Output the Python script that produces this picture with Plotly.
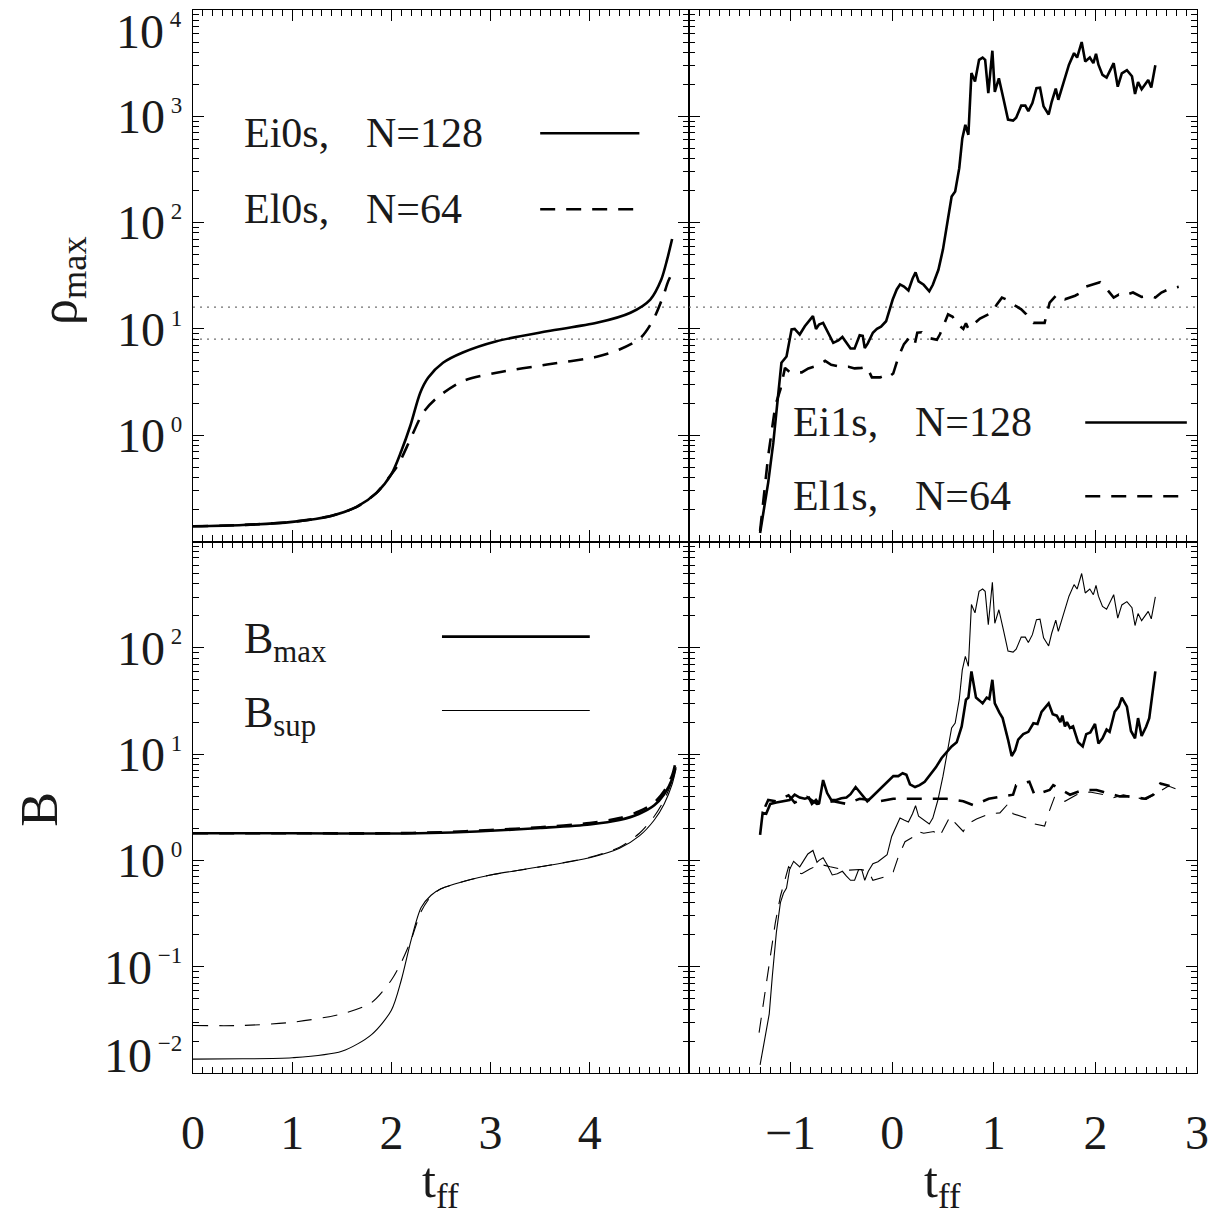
import plotly.graph_objects as go

# ---------------- data ----------------
# top-left: rho_max, Ei0s (N=128) and El0s (N=64)
t_ei0s = [0, 0.5, 1.0, 1.4, 1.65, 1.85, 2.0, 2.1, 2.19, 2.29, 2.37, 2.52, 2.72, 3.06, 3.57, 4.07, 4.41, 4.61, 4.72, 4.78, 4.83]
rho_ei0s = [0.139, 0.143, 0.153, 0.175, 0.212, 0.287, 0.43, 0.71, 1.22, 2.5, 3.47, 4.8, 6.0, 7.66, 9.5, 11.4, 14.2, 18.9, 29, 45, 70]
t_el0s = [0, 0.5, 1.0, 1.4, 1.65, 1.85, 2.0, 2.07, 2.19, 2.32, 2.46, 2.72, 3.06, 3.57, 4.07, 4.30, 4.51, 4.64, 4.74, 4.79, 4.84]
rho_el0s = [0.139, 0.143, 0.153, 0.175, 0.212, 0.287, 0.43, 0.53, 0.91, 1.63, 2.25, 3.23, 3.87, 4.62, 5.46, 6.4, 8.2, 12.2, 20.3, 28, 35]

# top-right: rho_max, Ei1s (N=128) and El1s (N=64)
t_ei1s = [-1.30, -1.22, -1.17, -1.12, -1.09, -1.04, -0.99, -0.96, -0.91, -0.86,
          -0.81, -0.78, -0.75, -0.72, -0.68, -0.63, -0.58, -0.53, -0.49, -0.45,
          -0.41, -0.37, -0.32, -0.29, -0.27, -0.24, -0.19, -0.15, -0.11, -0.06,
          -0.03, 0.005, 0.045, 0.077, 0.116, 0.16, 0.20, 0.23, 0.26, 0.31,
          0.365, 0.40, 0.455, 0.50,
          0.55, 0.585, 0.62, 0.66, 0.69, 0.72, 0.75, 0.78, 0.815, 0.855,
          0.89, 0.915, 0.946, 0.986, 1.01, 1.05, 1.094, 1.14, 1.19, 1.22,
          1.27, 1.31, 1.34, 1.38, 1.42, 1.455, 1.49, 1.54, 1.57, 1.61,
          1.635, 1.68, 1.74, 1.79, 1.82, 1.865, 1.90, 1.945, 1.98, 2.006,
          2.03, 2.07, 2.11, 2.18, 2.22, 2.26, 2.31, 2.36, 2.39, 2.42,
          2.455, 2.52, 2.55, 2.59]
rho_ei1s = [0.12, 0.36, 0.85, 2.7, 4.8, 5.5, 9.9, 10, 8.85, 10.6,
            12.2, 13.2, 10, 11, 11.4, 9.2, 7.4, 7.8, 8.4, 7.4,
            6.55, 6.55, 8.7, 8.6, 6.6, 7.3, 9.2, 10, 10.5, 11.8,
            14.7, 18.9, 23.5, 26.2, 25, 23, 29.6, 34, 28, 26,
            22.6, 26, 36, 56,
            110, 176, 196, 325, 620, 830, 670, 2550, 2130, 3400,
            3570, 3400, 1650, 4140, 1700, 2280, 1480, 930, 910, 970,
            1260, 1260, 1120, 1330, 1840, 1860, 1240, 1040, 1370, 1820,
            1430, 2030, 3060, 3930, 3570, 5000, 3280, 3570, 3160, 3870,
            3060, 2450, 2310, 3160, 1900, 2530, 2720, 2380, 1620, 2100,
            1800, 2200, 1870, 3020]
t_el1s = [-1.30, -1.22, -1.15, -1.10, -1.055, -1.006, -0.89, -0.825, -0.74, -0.66,
          -0.60, -0.51, -0.43, -0.37, -0.30, -0.25, -0.20, -0.12, -0.07, -0.04,
          0.01, 0.06, 0.116, 0.175, 0.224, 0.247, 0.29, 0.34, 0.44, 0.47,
          0.55, 0.595, 0.634, 0.70, 0.726, 0.75, 0.864, 0.913, 0.98, 1.03,
          1.08, 1.12, 1.16, 1.27, 1.32, 1.35, 1.39, 1.50, 1.55, 1.62,
          1.70, 1.80, 1.88, 1.91, 2.045, 2.11, 2.18, 2.23, 2.27, 2.37,
          2.455, 2.54, 2.59, 2.65, 2.73, 2.82]
rho_el1s = [0.126, 0.64, 1.9, 2.7, 4.3, 3.9, 3.9, 4.25, 4.5, 5.0,
            4.6, 4.4, 4.4, 4.25, 4.3, 4.4, 3.5, 3.5, 3.65, 3.5,
            3.8, 5.4, 7.2, 8.4, 7.3, 9.2, 9.3, 8.3, 7.9, 8.9,
            13.7, 13, 11.3, 10, 11.3, 10, 12.5, 13.2, 14.2, 17,
            19.7, 19, 17.7, 15.3, 13.7, 12.2, 11.4, 11.4, 17.7, 21,
            19, 20.5, 22.5, 25, 27.5, 23.8, 19.7, 21, 20.4, 22,
            20, 20.4, 19.7, 22, 23.8, 24.9]

# bottom-left: B for Ei0s (solid) / El0s (dashed); thick = Bmax, thin = Bsup
t_b0 = [0, 1.0, 2.0, 2.5, 3.0, 3.5, 4.0, 4.3, 4.5, 4.65, 4.75, 4.83, 4.86]
bmax_ei0s = [1.80, 1.80, 1.79, 1.82, 1.90, 2.02, 2.18, 2.4, 2.75, 3.3, 4.2, 5.8, 7.4]
bmax_el0s = [1.80, 1.80, 1.80, 1.84, 1.93, 2.05, 2.25, 2.5, 2.9, 3.5, 4.5, 6.3, 8.0]
t_bsup0 = [0, 0.5, 1.0, 1.5, 1.8, 2.0, 2.1, 2.2, 2.3, 2.4, 2.5, 2.8, 3.0, 3.5, 4.0, 4.3, 4.5, 4.65, 4.75, 4.83, 4.87]
bsup_ei0s = [0.0135, 0.0136, 0.0139, 0.016, 0.023, 0.039, 0.075, 0.18, 0.36, 0.47, 0.54, 0.66, 0.73, 0.87, 1.06, 1.3, 1.7, 2.4, 3.4, 5.2, 7.3]
bsup_el0s = [0.028, 0.028, 0.030, 0.036, 0.046, 0.075, 0.11, 0.18, 0.33, 0.46, 0.54, 0.66, 0.73, 0.87, 1.07, 1.33, 1.8, 2.6, 3.7, 5.6, 7.6]

# bottom-right: B for Ei1s (solid) / El1s (dashed)
t_bmax_ei1s = [-1.30, -1.275, -1.24, -1.20, -1.14, -1.07, -1.01, -0.96, -0.91, -0.86,
               -0.82, -0.79, -0.75, -0.72, -0.68, -0.64, -0.60, -0.55, -0.50, -0.45,
               -0.41, -0.36, -0.32, -0.28, -0.245, -0.20, -0.15, -0.12, -0.09, -0.04,
               0.011, 0.06, 0.103, 0.14, 0.175, 0.225, 0.27, 0.32, 0.38, 0.43,
               0.487, 0.536, 0.585, 0.635, 0.684, 0.726, 0.75, 0.78, 0.825, 0.858,
               0.89, 0.93, 0.956, 0.986, 1.01, 1.055, 1.087, 1.14, 1.176, 1.21,
               1.24, 1.29, 1.34, 1.39, 1.43, 1.47, 1.54, 1.58, 1.62, 1.655,
               1.675, 1.70, 1.72, 1.75, 1.78, 1.83, 1.875, 1.91, 1.95, 1.996,
               2.03, 2.07, 2.11, 2.14, 2.19, 2.23, 2.26, 2.31, 2.35, 2.39,
               2.42, 2.455, 2.50, 2.53, 2.59]
bmax_ei1s = [1.74, 2.8, 2.75, 3.4, 3.5, 3.6, 3.7, 4.15, 3.9, 3.8,
             3.9, 3.4, 3.7, 3.4, 5.7, 4.3, 3.7, 3.7, 3.85, 3.9,
             4.2, 4.9, 4.4, 3.9, 3.6, 3.95, 4.4, 4.6, 5.0, 5.5,
             6.2, 6.2, 6.6, 6.4, 5.2, 4.9, 5.1, 5.5, 6.6, 7.5,
             9.2, 10.3, 11.8, 12.9, 18.2, 32.5, 34, 60, 34, 32,
             30, 34, 33, 50, 30, 24.6, 21.8, 13.7, 9.6, 10.9,
             13.7, 15.4, 16.2, 19.5, 19.2, 25, 30, 23.7, 23, 20,
             23, 18.2, 20, 17.6, 18.2, 12.9, 11.8, 15.4, 16, 19.2,
             12.6, 14.1, 17, 16.2, 25, 28, 34, 28, 16.5, 14.1,
             21.8, 14.8, 18.2, 21.8, 60]
t_bmax_el1s = [-1.25, -1.22, -1.14, -1.02, -0.96, -0.84, -0.74, -0.58, -0.45, -0.32,
               -0.12, 0.01, 0.21, 0.40, 0.535, 0.70, 0.80, 0.95, 1.08, 1.19,
               1.22, 1.35, 1.40, 1.55, 1.585, 1.75, 1.88, 2.01, 2.08, 2.18,
               2.24, 2.32, 2.49, 2.57, 2.64, 2.73]
bmax_el1s = [3.2, 3.7, 3.6, 4.1, 3.5, 3.95, 3.4, 3.6, 3.4, 3.8,
             3.6, 3.8, 3.8, 3.8, 3.8, 3.6, 3.3, 3.8, 4.0, 4.15,
             5.1, 5.5, 4.15, 4.6, 5.1, 4.15, 4.6, 4.6, 4.4, 4.15,
             4.0, 4.0, 3.8, 4.15, 5.3, 5.0]
t_bsup_ei1s = [-1.30, -1.24, -1.21, -1.18, -1.14, -1.10, -1.07, -1.04, -1.01, -0.97,
               -0.95, -0.91, -0.87, -0.83, -0.78, -0.74, -0.72, -0.68, -0.64, -0.59,
               -0.54, -0.49, -0.45, -0.41, -0.37, -0.33, -0.30, -0.27, -0.235, -0.19,
               -0.14, -0.09, -0.05, -0.005, 0.04, 0.077, 0.116, 0.16, 0.2, 0.23,
               0.26, 0.31, 0.365, 0.40, 0.45, 0.50, 0.55, 0.585, 0.62, 0.66,
               0.69, 0.72, 0.75, 0.78, 0.815, 0.855, 0.89, 0.915, 0.946, 0.986,
               1.01, 1.05, 1.094, 1.14, 1.19, 1.22, 1.27, 1.31, 1.34, 1.38,
               1.42, 1.455, 1.49, 1.54, 1.57, 1.61, 1.635, 1.68, 1.74, 1.79,
               1.82, 1.865, 1.90, 1.945, 1.98, 2.006, 2.03, 2.07, 2.11, 2.18,
               2.22, 2.26, 2.31, 2.36, 2.39, 2.42, 2.455, 2.52, 2.55, 2.59]
bsup_ei1s = [0.0119, 0.0236, 0.036, 0.081, 0.21, 0.40, 0.49, 0.55, 0.82, 0.98,
             0.94, 0.87, 1.0, 1.15, 1.24, 0.96, 1.0, 1.06, 0.91, 0.73,
             0.75, 0.79, 0.71, 0.65, 0.65, 0.82, 0.82, 0.65, 0.79, 0.93,
             0.97, 1.05, 1.13, 1.68, 2.1, 2.5, 2.4, 2.3, 2.75, 3.27,
             2.6, 2.4, 2.2, 2.5, 3.7, 6.2, 11, 17.6, 19.6, 32.5,
             62, 83, 67, 255, 213, 340, 357, 340, 165, 414,
             170, 228, 148, 93, 91, 97, 126, 126, 112, 133,
             184, 186, 124, 104, 137, 182, 143, 203, 306, 393,
             357, 500, 328, 357, 316, 387, 306, 245, 231, 316,
             190, 253, 272, 238, 162, 210, 180, 220, 187, 302]
t_bsup_el1s = [-1.31, -1.25, -1.20, -1.15, -1.10, -1.055, -1.02, -0.96, -0.89, -0.81,
               -0.71, -0.61, -0.51, -0.42, -0.32, -0.235, -0.19, -0.07, -0.02, 0.01,
               0.06, 0.126, 0.21, 0.25, 0.31, 0.41, 0.465, 0.57, 0.62, 0.70,
               0.74, 0.83, 0.96, 1.06, 1.14, 1.19, 1.32, 1.36, 1.50, 1.54,
               1.60, 1.70, 1.815, 1.945, 2.08, 2.18, 2.275, 2.39, 2.50, 2.60,
               2.72, 2.82]
bsup_el1s = [0.024, 0.06, 0.135, 0.26, 0.46, 0.66, 0.87, 0.78, 0.75, 0.83,
             0.92, 0.87, 0.83, 0.81, 0.82, 0.8, 0.65, 0.7, 0.75, 0.78,
             1.08, 1.5, 1.67, 1.87, 1.8, 1.87, 1.67, 2.6, 2.25, 1.87,
             2.2, 2.45, 2.75, 2.8, 3.4, 2.75, 2.5, 2.25, 2.1, 2.8,
             4.0, 3.6, 4.15, 4.4, 4.15, 3.9, 4.15, 3.9, 3.75, 4.3,
             5.0, 4.6]

# horizontal reference density levels (dotted)
rho_levels = [8, 16]

# axis ranges / ticks
x_left_range = [0, 5]
x_right_range = [-2, 3]
x_left_ticks = [0, 1, 2, 3, 4]
x_right_ticks = [-1, 0, 1, 2, 3]
x_right_text = ["\u22121", "0", "1", "2", "3"]
rho_range_log = [-1, 4]
b_range_log = [-2, 3]
rho_ticks = [1, 10, 100, 1000]
b_ticks = [0.1, 1, 10, 100]

# ---------------- style ----------------
FONT = "Liberation Serif"
INK = "#1a1a1a"
THICK = 2.6
THIN = 1.1
DASH = "15px,11px"


def dec_label(exp):
    s = str(exp).replace("-", "\u2212")
    return f"10<sup><span style='font-size:23px'> {s}</span></sup>"


fig = go.Figure()

def line(x, y, xa, ya, width, dash="solid", color="black", shape="linear"):
    fig.add_trace(go.Scatter(x=x, y=y, xaxis=xa, yaxis=ya, mode="lines",
                             line=dict(color=color, width=width, dash=dash, shape=shape,
                                       smoothing=0.8 if shape == "spline" else None),
                             showlegend=False, hoverinfo="skip"))

# dotted levels
for lev in rho_levels:
    line(x_left_range, [lev, lev], "x", "y", 1.2, "2px,5px", "#707070")
    line(x_right_range, [lev, lev], "x2", "y2", 1.2, "2px,5px", "#707070")

# top-left
line(t_ei0s, rho_ei0s, "x", "y", THICK, shape="spline")
line(t_el0s, rho_el0s, "x", "y", THICK, DASH, shape="spline")
# top-right
line(t_ei1s, rho_ei1s, "x2", "y2", THICK)
line(t_el1s, rho_el1s, "x2", "y2", THICK, DASH)
# bottom-left
line(t_b0, bmax_ei0s, "x3", "y3", THICK, shape="spline")
line(t_b0, bmax_el0s, "x3", "y3", THICK, DASH, shape="spline")
line(t_bsup0, bsup_ei0s, "x3", "y3", THIN, shape="spline")
line(t_bsup0, bsup_el0s, "x3", "y3", THIN, DASH, shape="spline")
# bottom-right
line(t_bmax_ei1s, bmax_ei1s, "x4", "y4", THICK)
line(t_bmax_el1s, bmax_el1s, "x4", "y4", THICK, DASH)
line(t_bsup_ei1s, bsup_ei1s, "x4", "y4", THIN)
line(t_bsup_el1s, bsup_el1s, "x4", "y4", THIN, DASH)

# ---------------- axes ----------------
tickfont = dict(family=FONT, size=48, color=INK)

def minor_log(lo, hi):
    vals = []
    for e in range(lo, hi):
        for m in range(2, 10):
            vals.append(m * 10 ** e)
    return vals

base = dict(showline=True, linecolor="black", linewidth=1.4, mirror="ticks",
            ticks="inside", ticklen=11, tickwidth=1.2, tickcolor="black",
            showgrid=False, zeroline=False, tickfont=tickfont)

xminor = dict(ticks="inside", ticklen=6, tickwidth=1.0, tickcolor="black",
              dtick=0.1, tick0=0, showgrid=False)

def yminor(lo, hi):
    return dict(ticks="inside", ticklen=6, tickwidth=1.0, tickcolor="black",
                tickmode="array", tickvals=minor_log(lo, hi), showgrid=False)

XL = [0, 0.494]
XR = [0.494, 1]
YT = [0.5, 1]
YB = [0, 0.5]

fig.update_layout(
    xaxis=dict(base, domain=XL, range=x_left_range, anchor="y", tickmode="array",
               tickvals=x_left_ticks, showticklabels=False, minor=xminor),
    xaxis2=dict(base, domain=XR, range=x_right_range, anchor="y2", tickmode="array",
                tickvals=x_right_ticks, showticklabels=False, minor=xminor),
    xaxis3=dict(base, domain=XL, range=x_left_range, anchor="y3", tickmode="array",
                tickvals=x_left_ticks, ticktext=[str(v) for v in x_left_ticks],
                ticklabelstandoff=17, minor=xminor),
    xaxis4=dict(base, domain=XR, range=x_right_range, anchor="y4", tickmode="array",
                tickvals=x_right_ticks, ticktext=x_right_text,
                ticklabelstandoff=17, minor=xminor),
    yaxis=dict(base, type="log", domain=YT, range=rho_range_log, anchor="x",
               tickmode="array", tickvals=rho_ticks,
               ticktext=[dec_label(e) for e in range(0, 4)], ticklabelstandoff=0,
               minor=yminor(-1, 4)),
    yaxis2=dict(base, type="log", domain=YT, range=rho_range_log, anchor="x2",
                tickmode="array", tickvals=rho_ticks, showticklabels=False,
                minor=yminor(-1, 4)),
    yaxis3=dict(base, type="log", domain=YB, range=b_range_log, anchor="x3",
                tickmode="array", tickvals=b_ticks,
                ticktext=[dec_label(e) for e in range(-1, 3)], ticklabelstandoff=0,
                minor=yminor(-2, 3)),
    yaxis4=dict(base, type="log", domain=YB, range=b_range_log, anchor="x4",
                tickmode="array", tickvals=b_ticks, showticklabels=False,
                minor=yminor(-2, 3)),
)

# ---------------- texts ----------------
ann = []
# edge decade labels (shifted inward like the original)
ann.append(dict(text=dec_label(4), xref="x domain", yref="y", x=0, y=4, xanchor="right",
                yanchor="middle", xshift=-9, yshift=-21, height=40, showarrow=False,
                font=tickfont))
ann.append(dict(text=dec_label(-2), xref="x3 domain", yref="y3", x=0, y=-2, xanchor="right",
                yanchor="middle", xshift=-9, yshift=18, height=40, showarrow=False,
                font=tickfont))

# axis titles
ann.append(dict(text="\u03c1<sub>max</sub>", xref="paper", yref="paper", x=-0.1305, y=0.746,
                xanchor="center", yanchor="middle", height=50,
                textangle=-90, showarrow=False, font=dict(family=FONT, size=52, color=INK)))
ann.append(dict(text="B", xref="paper", yref="paper", x=-0.153, y=0.248,
                xanchor="center", yanchor="middle", height=38,
                textangle=-90, showarrow=False, font=dict(family=FONT, size=52, color=INK)))
for xr in ["x3 domain", "x4 domain"]:
    ann.append(dict(text="t<sub>ff</sub>", xref=xr, yref="paper", x=0.5, y=-0.104,
                    xanchor="center", yanchor="middle", height=54,
                    showarrow=False, font=dict(family=FONT, size=50, color=INK)))

legfont = dict(family=FONT, size=42, color=INK)

def label(text, xr, yr, x, y, font=legfont):
    ann.append(dict(text=text, xref=xr, yref=yr, x=x, y=y, xanchor="left",
                    yanchor="middle", showarrow=False, font=font))

# top-left legend
label("Ei0s,", "x domain", "y domain", 0.098, 0.768)
label("N=128", "x domain", "y domain", 0.345, 0.768)
label("El0s,", "x domain", "y domain", 0.098, 0.625)
label("N=64", "x domain", "y domain", 0.345, 0.625)
# top-right legend
label("Ei1s,", "x2 domain", "y2 domain", 0.201, 0.224)
label("N=128", "x2 domain", "y2 domain", 0.441, 0.224)
label("El1s,", "x2 domain", "y2 domain", 0.201, 0.085)
label("N=64", "x2 domain", "y2 domain", 0.441, 0.085)
# bottom-left legend
bfont = dict(family=FONT, size=44, color=INK)
label("B<sub>max</sub>", "x3 domain", "y3 domain", 0.098, 0.812, bfont)
label("B<sub>sup</sub>", "x3 domain", "y3 domain", 0.098, 0.672, bfont)

shapes = []
def sample(xr, yr, x0, x1, y, width, dash="solid"):
    shapes.append(dict(type="line", xref=xr, yref=yr, x0=x0, x1=x1, y0=y, y1=y,
                       line=dict(color="black", width=width, dash=dash)))

sample("x domain", "y domain", 0.70, 0.90, 0.768, THICK)
sample("x domain", "y domain", 0.70, 0.90, 0.625, THICK, DASH)
sample("x2 domain", "y2 domain", 0.78, 0.98, 0.224, THICK)
sample("x2 domain", "y2 domain", 0.78, 0.98, 0.085, THICK, DASH)
sample("x3 domain", "y3 domain", 0.502, 0.80, 0.821, THICK)
sample("x3 domain", "y3 domain", 0.502, 0.80, 0.682, THIN)

# page body has an 8px default margin: shift the figure so the frame lands where the original does
fig.update_layout(
    width=1209, height=1207,
    margin=dict(l=185, r=20, t=2, b=142),
    paper_bgcolor="white", plot_bgcolor="white",
    showlegend=False,
    annotations=ann, shapes=shapes,
)

fig.write_html("out.html")
